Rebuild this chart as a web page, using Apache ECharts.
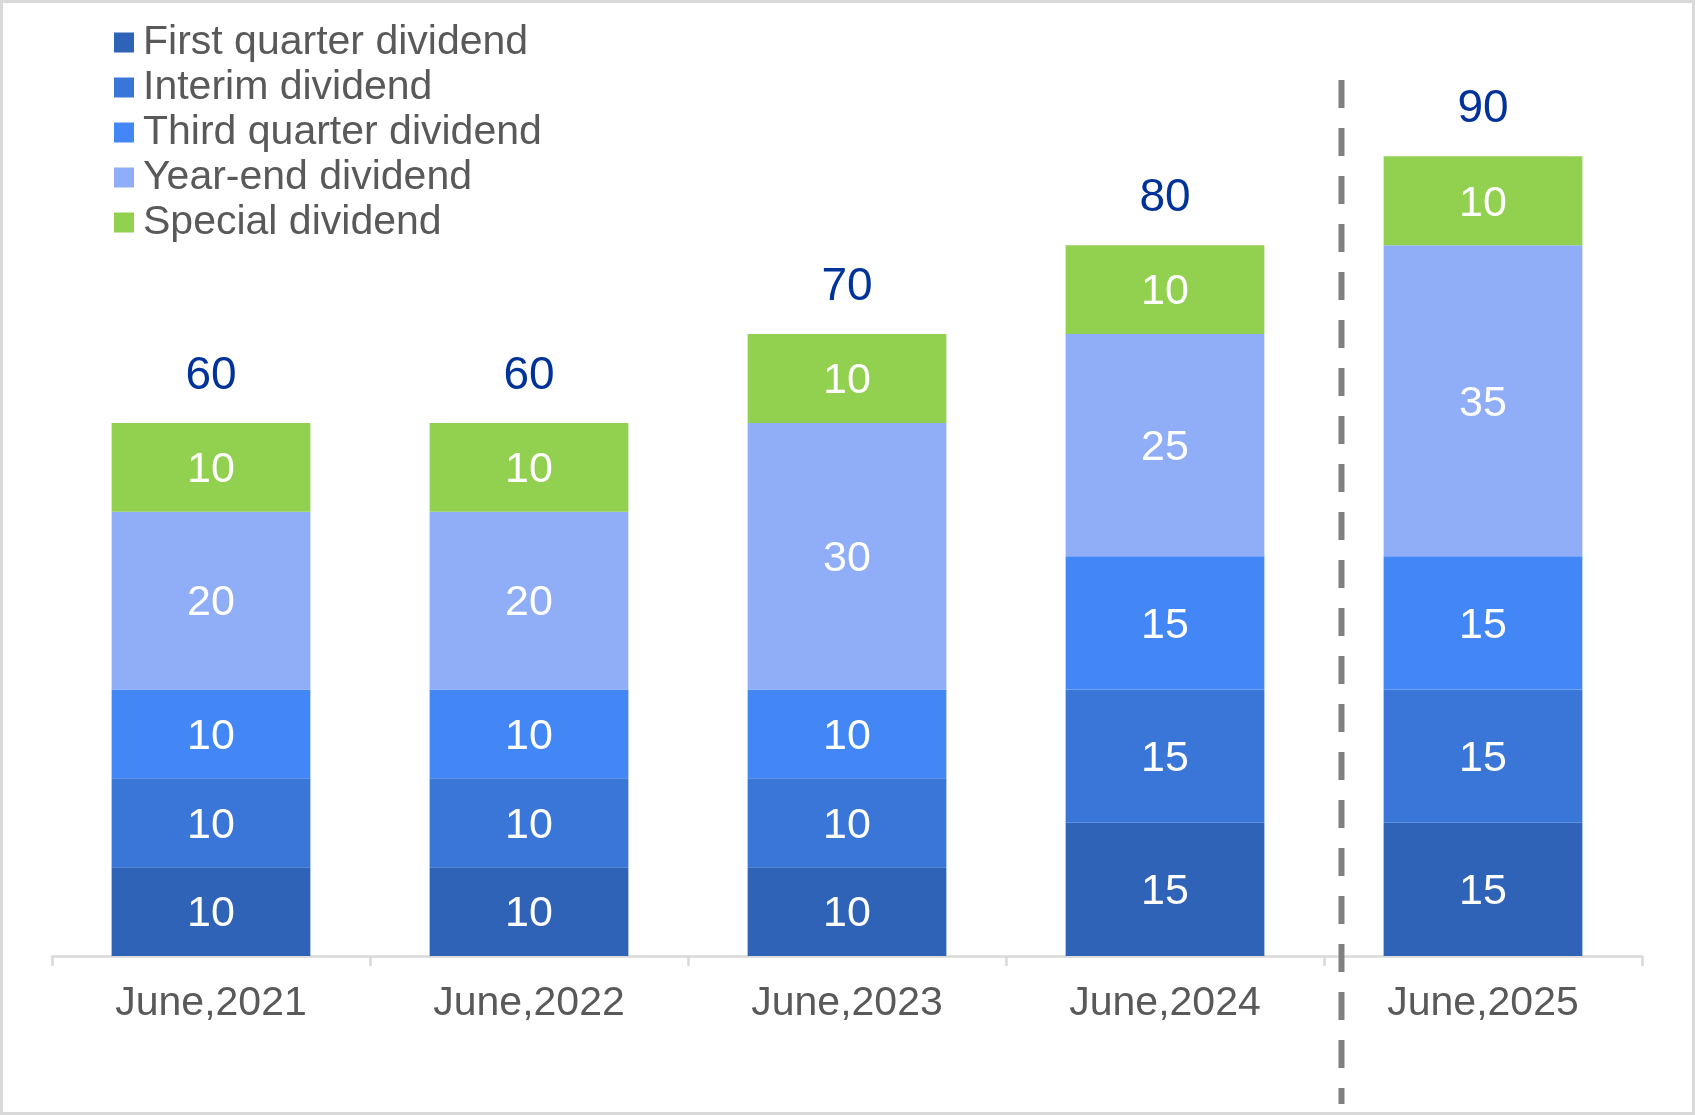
<!DOCTYPE html>
<html>
<head>
<meta charset="utf-8">
<script src="https://cdn.jsdelivr.net/npm/echarts@6/dist/echarts.min.js"></script>
<style>
html,body{margin:0;padding:0;background:#fff;}
#wrap{position:relative;width:1695px;height:1115px;}
#chart{width:1695px;height:1115px;}
#frame{position:absolute;left:0;top:0;width:1695px;height:1115px;box-sizing:border-box;border:3px solid #d9d9d9;pointer-events:none;}
</style>
</head>
<body>
<div id="wrap"><div id="chart"></div><div id="frame"></div></div>
<script>
const categories = ['June,2021', 'June,2022', 'June,2023', 'June,2024', 'June,2025'];
const firstQuarter = [10, 10, 10, 15, 15];
const interim = [10, 10, 10, 15, 15];
const thirdQuarter = [10, 10, 10, 15, 15];
const yearEnd = [20, 20, 30, 25, 35];
const special = [10, 10, 10, 10, 10];
const seriesNames = ['First quarter dividend', 'Interim dividend', 'Third quarter dividend', 'Year-end dividend', 'Special dividend'];
const seriesColors = ['#2F63B8', '#3A76D8', '#4287F5', '#90AEF7', '#92D050'];

const allSeries = [firstQuarter, interim, thirdQuarter, yearEnd, special];
const totals = categories.map((c, i) => allSeries.reduce((s, arr) => s + arr[i], 0));

const FONT = "'Liberation Sans', Arial, sans-serif";
const chart = echarts.init(document.getElementById('chart'), null, {renderer: 'canvas'});

const series = allSeries.map((arr, k) => ({
  name: seriesNames[k],
  type: 'bar',
  stack: 'div',
  barWidth: '62.5%',
  data: arr,
  itemStyle: {color: seriesColors[k]},
  label: {
    show: true,
    position: 'inside',
    offset: [0, 3],
    color: '#ffffff',
    fontSize: 43,
    fontFamily: FONT
  },
  emphasis: {disabled: true}
}));
series.push({
  name: 'Total',
  type: 'bar',
  stack: 'div',
  barWidth: '62.5%',
  data: totals.map(() => 0),
  itemStyle: {color: 'transparent'},
  label: {
    show: true,
    position: 'top',
    distance: 24,
    color: '#003399',
    fontSize: 46,
    fontFamily: FONT,
    formatter: p => String(totals[p.dataIndex])
  },
  emphasis: {disabled: true}
});

chart.setOption({
  animation: false,
  backgroundColor: '#ffffff',
  legend: {
    data: seriesNames,
    orient: 'vertical',
    left: 109,
    top: 17,
    itemWidth: 20,
    itemHeight: 20,
    itemGap: 4,
    icon: 'rect',
    textStyle: {
      color: '#595959',
      fontSize: 41,
      lineHeight: 41,
      fontFamily: FONT,
      padding: [0, 0, 0, 4]
    },
    selectedMode: false
  },
  grid: {left: 52, right: 53, top: 67.5, bottom: 159, containLabel: false},
  xAxis: {
    type: 'category',
    data: categories,
    axisLine: {show: true, lineStyle: {color: '#d9d9d9', width: 2.5}},
    axisTick: {show: true, length: 10, lineStyle: {color: '#d9d9d9', width: 2.5}},
    axisLabel: {color: '#595959', fontSize: 41, fontFamily: FONT, margin: 27}
  },
  yAxis: {
    type: 'value',
    min: 0,
    max: 100,
    show: false,
    splitLine: {show: false}
  },
  series: series
});

// dashed separator between the last two categories
const p3 = chart.convertToPixel({xAxisIndex: 0}, categories[3]);
const p4 = chart.convertToPixel({xAxisIndex: 0}, categories[4]);
const sepX = (p3 + p4) / 2 + (p4 - p3) * 0.055;
chart.setOption({
  graphic: [{
    type: 'line',
    silent: true,
    z: 100,
    shape: {x1: sepX, y1: 80, x2: sepX, y2: 1104},
    style: {stroke: '#808080', lineWidth: 6, lineDash: [28, 20]}
  }]
});
</script>
</body>
</html>
